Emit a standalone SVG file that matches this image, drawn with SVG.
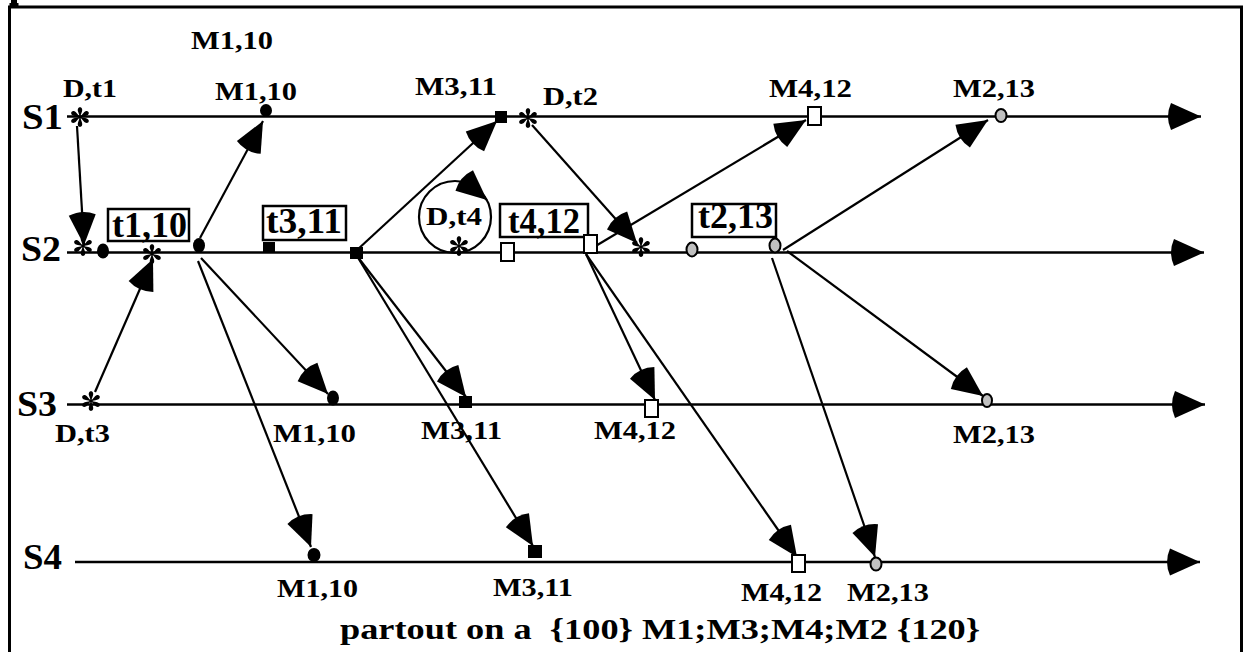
<svg xmlns="http://www.w3.org/2000/svg" width="1244" height="652" viewBox="0 0 1244 652">
  <style>
    .frame { stroke: #000; stroke-width: 3; fill: none; }
    .tl { stroke: #000; stroke-width: 2.6; fill: none; }
    .cn { stroke: #000; stroke-width: 2.2; fill: none; }
    .lbl { font-family: "Liberation Serif", "Times New Roman", serif; font-weight: bold; font-size: 24.5px; fill: #000; }
    .big { font-family: "Liberation Serif", "Times New Roman", serif; font-weight: bold; font-size: 35px; fill: #000; }
    .sname { font-family: "Liberation Serif", "Times New Roman", serif; font-weight: bold; font-size: 36px; fill: #000; }
    .foot { font-family: "Liberation Serif", "Times New Roman", serif; font-weight: bold; font-size: 30px; fill: #000; }
    .box { fill: #fff; stroke: #000; stroke-width: 2.5; }
    .dot { fill: #000; }
    .sq { fill: #000; }
    .hsq { fill: #fff; stroke: #000; stroke-width: 2; }
    .gdot { fill: #c0c0c0; stroke: #000; stroke-width: 2; }
  </style>
  <defs>
    <marker id="ah" markerUnits="userSpaceOnUse" viewBox="-36 -15 38 30" markerWidth="38" markerHeight="30" refX="0" refY="0" orient="auto" overflow="visible">
      <path d="M0,0 L-30,-13.5 Q-36,0 -30,13.5 Z" fill="#000"/>
    </marker>
    <!-- six-petal event star -->
    <g id="ast">
      <path id="petal" d="M0,0 L-1.8,-5 C-4.2,-11.5 4.2,-11.5 1.8,-5 Z" fill="#000"/>
      <use href="#petal" transform="rotate(60)"/>
      <use href="#petal" transform="rotate(120)"/>
      <use href="#petal" transform="rotate(180)"/>
      <use href="#petal" transform="rotate(240)"/>
      <use href="#petal" transform="rotate(300)"/>
      <circle r="1.8" fill="#000"/>
    </g>
  </defs>

  <rect width="1244" height="652" fill="#fff"/>

  <!-- frame -->
  <g id="frame">
    <path class="frame" d="M9.5,652 V7 H1241.5 V652"/>
    <path d="M11,0 h6 v3 h1.5 v3 h-9 v-3 h1.5 z" fill="#000"/>
  </g>

  <!-- process timelines -->
  <g id="timelines">
    <g id="S1">
      <text class="sname" x="22" y="129" textLength="41" lengthAdjust="spacingAndGlyphs">S1</text>
      <path class="tl" d="M67,116.5 H1201" marker-end="url(#ah)"/>
    </g>
    <g id="S2">
      <text class="sname" x="21" y="261" textLength="40" lengthAdjust="spacingAndGlyphs">S2</text>
      <path class="tl" d="M67,252.5 H1204" marker-end="url(#ah)"/>
    </g>
    <g id="S3">
      <text class="sname" x="17" y="416" textLength="40" lengthAdjust="spacingAndGlyphs">S3</text>
      <path class="tl" d="M67,404.5 H1205" marker-end="url(#ah)"/>
    </g>
    <g id="S4">
      <text class="sname" x="23" y="569" textLength="39" lengthAdjust="spacingAndGlyphs">S4</text>
      <path class="tl" d="M75,562 H1200" marker-end="url(#ah)"/>
    </g>
  </g>

  <!-- messages -->
  <g id="connectors">
    <path class="cn" d="M77,126 L84,245" marker-end="url(#ah)"/>
    <path class="cn" d="M200,238 L263,121" marker-end="url(#ah)"/>
    <path class="cn" d="M95,392 L153,259" marker-end="url(#ah)"/>
    <path class="cn" d="M201,258 L328,394" marker-end="url(#ah)"/>
    <path class="cn" d="M198,261 L311,547" marker-end="url(#ah)"/>
    <path class="cn" d="M357,250 L497,121" marker-end="url(#ah)"/>
    <path class="cn" d="M357,256 L466,397" marker-end="url(#ah)"/>
    <path class="cn" d="M357,256 L533,546" marker-end="url(#ah)"/>
    <path class="cn" d="M532,125 L637,243" marker-end="url(#ah)"/>
    <path class="cn" d="M589,250 L806,120" marker-end="url(#ah)"/>
    <path class="cn" d="M586,254 L655,400" marker-end="url(#ah)"/>
    <path class="cn" d="M586,254 L797,557" marker-end="url(#ah)"/>
    <path class="cn" d="M783,250 L988,120" marker-end="url(#ah)"/>
    <path class="cn" d="M787,251 L983,396" marker-end="url(#ah)"/>
    <path class="cn" d="M772,258 L875,557" marker-end="url(#ah)"/>
    <!-- local loop on S2 -->
    <circle class="cn" cx="455" cy="217" r="36"/>
    <path class="cn" d="M466,182 L487,200" marker-end="url(#ah)"/>
  </g>

  <!-- events on S1 -->
  <g id="s1-events">
    <g id="s1-d-t1">
      <use href="#ast" x="80" y="117"/>
      <text class="lbl" x="63" y="97" textLength="54" lengthAdjust="spacingAndGlyphs">D,t1</text>
    </g>
    <text class="lbl" x="191" y="49" textLength="82" lengthAdjust="spacingAndGlyphs">M1,10</text>
    <g id="s1-m1">
      <ellipse class="dot" cx="266" cy="110.5" rx="6" ry="6.5"/>
      <text class="lbl" x="215" y="100" textLength="82" lengthAdjust="spacingAndGlyphs">M1,10</text>
    </g>
    <g id="s1-m3">
      <rect class="sq" x="495" y="111" width="12" height="12"/>
      <text class="lbl" x="415" y="95" textLength="82" lengthAdjust="spacingAndGlyphs">M3,11</text>
    </g>
    <g id="s1-d-t2">
      <use href="#ast" x="528" y="118"/>
      <text class="lbl" x="543" y="105" textLength="55" lengthAdjust="spacingAndGlyphs">D,t2</text>
    </g>
    <g id="s1-m4">
      <rect class="hsq" x="808" y="107" width="13" height="18"/>
      <text class="lbl" x="769" y="97" textLength="83" lengthAdjust="spacingAndGlyphs">M4,12</text>
    </g>
    <g id="s1-m2">
      <ellipse class="gdot" cx="1001" cy="115.5" rx="5.5" ry="6.5"/>
      <text class="lbl" x="953" y="97" textLength="82" lengthAdjust="spacingAndGlyphs">M2,13</text>
    </g>
  </g>

  <!-- events on S2 -->
  <g id="s2-events">
    <use href="#ast" x="83" y="246"/>
    <ellipse class="dot" cx="103" cy="251" rx="6" ry="7.5"/>
    <g id="s2-t1">
      <rect class="box" x="108" y="209" width="81" height="32"/>
      <text class="big" x="112" y="237" textLength="75" lengthAdjust="spacingAndGlyphs">t1,10</text>
    </g>
    <use href="#ast" x="152" y="254"/>
    <ellipse class="dot" cx="199" cy="245.5" rx="6" ry="7.5"/>
    <g id="s2-t3">
      <rect class="box" x="263" y="206" width="83" height="34"/>
      <text class="big" x="266" y="233" textLength="76" lengthAdjust="spacingAndGlyphs">t3,11</text>
      <rect class="sq" x="263" y="242" width="12" height="11"/>
    </g>
    <rect class="sq" x="350" y="247" width="13" height="12"/>
    <g id="s2-d-t4">
      <text class="lbl" x="426" y="225" textLength="56" lengthAdjust="spacingAndGlyphs">D,t4</text>
      <use href="#ast" x="459" y="246"/>
    </g>
    <g id="s2-t4">
      <rect class="box" x="500" y="204" width="88" height="33"/>
      <text class="big" x="508" y="233" textLength="72" lengthAdjust="spacingAndGlyphs">t4,12</text>
      <rect class="hsq" x="501" y="243" width="13" height="18"/>
    </g>
    <rect class="hsq" x="584" y="235" width="13" height="18"/>
    <use href="#ast" x="641" y="247"/>
    <ellipse class="gdot" cx="692" cy="249.5" rx="5.5" ry="7"/>
    <g id="s2-t2">
      <rect class="box" x="692" y="204" width="84" height="33"/>
      <text class="big" x="698" y="228" textLength="75" lengthAdjust="spacingAndGlyphs">t2,13</text>
    </g>
    <ellipse class="gdot" cx="775" cy="245.5" rx="5.5" ry="7"/>
  </g>

  <!-- events on S3 -->
  <g id="s3-events">
    <g id="s3-d-t3">
      <use href="#ast" x="91" y="401"/>
      <text class="lbl" x="55" y="442" textLength="55" lengthAdjust="spacingAndGlyphs">D,t3</text>
    </g>
    <g id="s3-m1">
      <ellipse class="dot" cx="333" cy="398" rx="6" ry="7.5"/>
      <text class="lbl" x="273" y="442" textLength="83" lengthAdjust="spacingAndGlyphs">M1,10</text>
    </g>
    <g id="s3-m3">
      <rect class="sq" x="459" y="396" width="13" height="12"/>
      <text class="lbl" x="421" y="439" textLength="81" lengthAdjust="spacingAndGlyphs">M3,11</text>
    </g>
    <g id="s3-m4">
      <rect class="hsq" x="645" y="400" width="13" height="17"/>
      <text class="lbl" x="594" y="439" textLength="82" lengthAdjust="spacingAndGlyphs">M4,12</text>
    </g>
    <g id="s3-m2">
      <ellipse class="gdot" cx="987" cy="400.5" rx="5" ry="6.5"/>
      <text class="lbl" x="953" y="443" textLength="82" lengthAdjust="spacingAndGlyphs">M2,13</text>
    </g>
  </g>

  <!-- events on S4 -->
  <g id="s4-events">
    <g id="s4-m1">
      <ellipse class="dot" cx="314" cy="555" rx="6.5" ry="7"/>
      <text class="lbl" x="277" y="597" textLength="81" lengthAdjust="spacingAndGlyphs">M1,10</text>
    </g>
    <g id="s4-m3">
      <rect class="sq" x="528" y="545" width="14" height="13"/>
      <text class="lbl" x="493" y="596" textLength="80" lengthAdjust="spacingAndGlyphs">M3,11</text>
    </g>
    <g id="s4-m4">
      <rect class="hsq" x="792" y="555" width="13" height="17"/>
      <text class="lbl" x="741" y="601" textLength="81" lengthAdjust="spacingAndGlyphs">M4,12</text>
    </g>
    <g id="s4-m2">
      <ellipse class="gdot" cx="876" cy="564" rx="5.5" ry="6.5"/>
      <text class="lbl" x="847" y="601" textLength="82" lengthAdjust="spacingAndGlyphs">M2,13</text>
    </g>
  </g>

  <g id="caption">
    <text class="foot" x="340" y="639" textLength="640" lengthAdjust="spacingAndGlyphs" xml:space="preserve">partout on a  {100} M1;M3;M4;M2 {120}</text>
  </g>
</svg>
